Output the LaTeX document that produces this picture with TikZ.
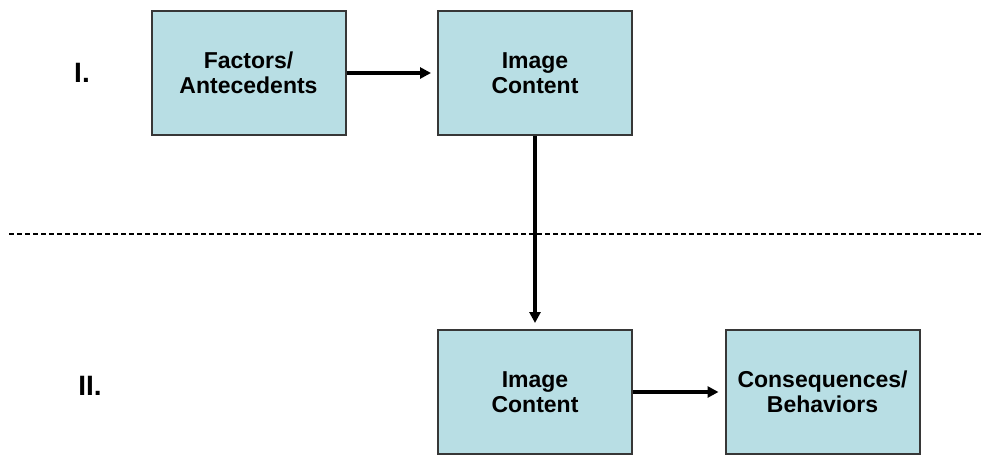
\documentclass[tikz,border=0pt]{standalone}
\usepackage{fontspec}
\setmainfont{Liberation Sans}
\usetikzlibrary{arrows.meta}
\definecolor{boxfill}{RGB}{184,222,228}
\definecolor{boxline}{RGB}{55,55,55}
\begin{document}
\begin{tikzpicture}[x=1pt,y=-1pt,
  flowbox/.style={draw=boxline,line width=2pt,fill=boxfill,minimum width=194pt,minimum height=124pt,
    inner sep=0pt,align=center,font=\fontsize{23}{25.5}\selectfont\bfseries},
  conn/.style={line width=3.5pt,-{Triangle[length=11pt,width=11pt]},shorten >=6pt},
  lvl/.style={font=\fontsize{28}{30}\selectfont\bfseries}]
\useasboundingbox (0,0) rectangle (981,455);
\node[flowbox] (fa) at (248.5,73) {Factors/\\Antecedents};
\node[flowbox] (ic1) at (535,73) {Image\\Content};
\node[flowbox] (ic2) at (535,392) {Image\\Content};
\node[flowbox] (cb) at (822.5,392) {Consequences/\\Behaviors};
\node[lvl] (l1) at (82,73) {I.};
\node[lvl] (l2) at (90,386) {II.};
\coordinate (dl) at (9,234);
\coordinate (dr) at (981,234);
\draw[line width=1.5pt,dash pattern=on 5pt off 3pt] (dl) -- (dr);
\draw[conn] (fa) -- (ic1);
\draw[conn] (ic1.south) -- (ic2.north);
\draw[conn] (ic2) -- (cb);
\end{tikzpicture}
\end{document}
